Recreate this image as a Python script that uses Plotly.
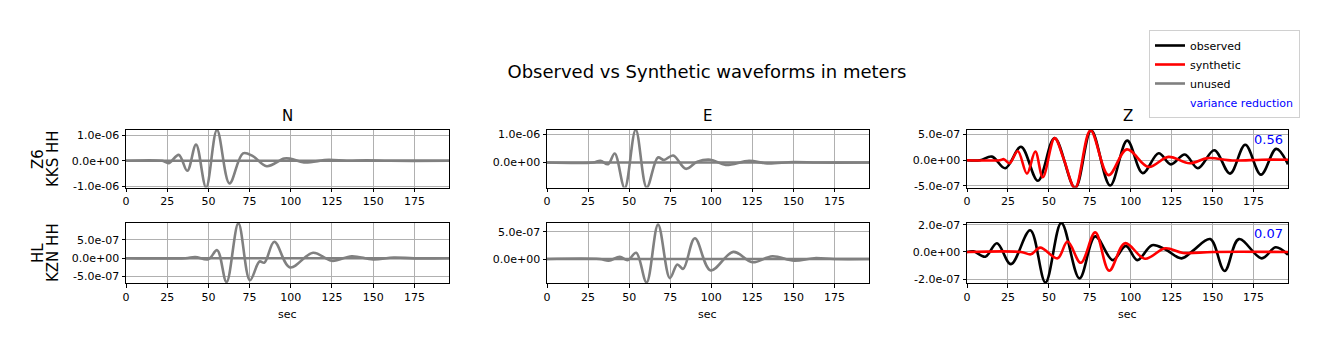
import plotly.graph_objects as go

# ---------------- data ----------------
x_ticks = [0, 25, 50, 75, 100, 125, 150, 175]
x_tick_labels = ["0", "25", "50", "75", "100", "125", "150", "175"]

# Row 1: Z6 KKS HH
t_N1 = [0, 22, 26, 32, 37.2, 42.5, 48.6, 55.2, 62.8, 71, 77, 85.4, 96, 100, 108, 123, 134, 146, 160, 196]
v_N1 = [0, 0, -0.09e-6, 0.23e-6, -0.39e-6, 0.63e-6, -1.04e-6, 1.2e-6, -0.88e-6, 0.29e-6, 0.18e-6,
        -0.21e-6, 0.09e-6, 0.08e-6, -0.06e-6, 0.04e-6, 0.0, 0.02e-6, 0, 0]
t_E1 = [0, 28, 32.5, 37.2, 41.2, 47.3, 54, 60.7, 67.5, 71.2, 76.8, 84.5, 91.5, 99.5, 108.8, 123, 134, 150, 165, 196]
v_E1 = [0, 0, 0.06e-6, -0.06e-6, 0.32e-6, -0.9e-6, 1.16e-6, -0.88e-6, 0.18e-6, 0.09e-6, 0.25e-6,
        -0.22e-6, 0.03e-6, 0.1e-6, -0.08e-6, 0.06e-6, -0.03e-6, 0.02e-6, 0, 0]
t_Z1_obs = [0, 8, 15.2, 23.4, 33, 43.3, 53.5, 66, 75.8, 87.4, 97.8, 107.3, 117, 124.5, 133, 141, 151,
            160.6, 169.9, 179.5, 188.8, 196]
v_Z1_obs = [0, 0, 0.7e-7, -1.55e-7, 2.6e-7, -4.0e-7, 4.3e-7, -5.4e-7, 5.8e-7, -4.9e-7, 3.8e-7, -2.5e-7,
            1.35e-7, -0.8e-7, 1.1e-7, -1.55e-7, 1.95e-7, -2.6e-7, 3.0e-7, -2.8e-7, 2.2e-7, -0.8e-7]
t_Z1_syn = [0, 20, 22.5, 26, 31, 36.6, 41.7, 46.3, 53.5, 59, 66, 75.4, 86.4, 97.6, 110.8, 123, 136, 147,
            162, 180, 196]
v_Z1_syn = [0, 0, 0.2e-7, -0.6e-7, 1.8e-7, -2.6e-7, 1.7e-7, -3.3e-7, 4.3e-7, 0.3e-7, -5.4e-7, 5.8e-7,
            -2.9e-7, 2.1e-7, -1.3e-7, 0.65e-7, -0.6e-7, 0.4e-7, -0.05e-7, 0.1e-7, 0.1e-7]

# Row 2: HL KZN HH
t_N2 = [0, 36, 42, 50, 55.3, 61, 68.2, 75.2, 81, 84, 90, 99.5, 113.5, 125, 137, 150, 162.5, 175, 196]
v_N2 = [0, 0, 0.3e-7, -0.3e-7, 2.2e-7, -6.5e-7, 9.5e-7, -6.0e-7, -0.9e-7, -1.2e-7, 4.5e-7, -2.5e-7,
        1.5e-7, -0.7e-7, 0.55e-7, -0.35e-7, 0.2e-7, -0.05e-7, 0]
t_E2 = [0, 32, 37.6, 44.3, 49.2, 54.3, 60.6, 67.6, 74.8, 79.3, 82.9, 90, 99.6, 113.4, 125, 137.2, 150.4,
        162.6, 175, 196]
v_E2 = [0, 0, -0.3e-7, 0.4e-7, -0.2e-7, 1.15e-7, -4.3e-7, 6.3e-7, -3.5e-7, -1.0e-7, -1.8e-7, 3.8e-7,
        -2.1e-7, 1.3e-7, -0.6e-7, 0.5e-7, -0.3e-7, 0.15e-7, 0, 0]
t_Z2_obs = [0, 4, 11.2, 18.3, 26.8, 38.6, 47.9, 57.6, 68.7, 78.3, 89, 97, 104, 113, 121, 131, 138,
            148.5, 157.3, 166, 180, 188.5, 196]
v_Z2_obs = [0, 0.05e-7, -0.35e-7, 0.65e-7, -0.9e-7, 1.6e-7, -2.25e-7, 2.15e-7, -1.95e-7, 1.15e-7,
            -0.6e-7, 0.45e-7, -0.6e-7, 0.5e-7, 0.2e-7, -0.47e-7, 0.1e-7, 0.95e-7, -1.4e-7, 0.95e-7,
            -0.47e-7, 0.35e-7, -0.2e-7]
t_Z2_syn = [0, 33, 39, 44.7, 55.3, 61.4, 69.5, 78.3, 86.8, 96.5, 108.7, 121, 132, 150, 196]
v_Z2_syn = [0, 0, -0.17e-7, 0.32e-7, -0.47e-7, 0.77e-7, -0.8e-7, 1.45e-7, -1.38e-7, 0.65e-7, -0.5e-7,
            0.27e-7, -0.07e-7, 0, 0]

# flat synthetic traces of unused components
t_flat = [0, 196]
v_flat = [0, 0]

variance_reduction = ["0.56", "0.07"]
components = ["N", "E", "Z"]
stations = [["Z6", "KKS HH"], ["HL", "KZN HH"]]

y_ticks = {
    1: ([1e-6, 0, -1e-6], ["1.0e-06", "0.0e+00", "-1.0e-06"]),
    2: ([1e-6, 0], ["1.0e-06", "0.0e+00"]),
    3: ([5e-7, 0, -5e-7], ["5.0e-07", "0.0e+00", "-5.0e-07"]),
    4: ([5e-7, 0, -5e-7], ["5.0e-07", "0.0e+00", "-5.0e-07"]),
    5: ([5e-7, 0], ["5.0e-07", "0.0e+00"]),
    6: ([2e-7, 0, -2e-7], ["2.0e-07", "0.0e+00", "-2.0e-07"]),
}
y_ranges = {
    1: [-1.04e-6, 1.2e-6],
    2: [-0.88e-6, 1.15e-6],
    3: [-5.3e-7, 5.87e-7],
    4: [-6.75e-7, 9.6e-7],
    5: [-4.4e-7, 6.6e-7],
    6: [-2.29e-7, 2.14e-7],
}

# ---------------- layout geometry ----------------
W, H = 1329, 351
FONT = "DejaVu Sans"
col_px = [(126, 449), (547, 869), (967, 1288)]
row_px = [(130, 187.5), (223, 283)]

def px_x(p):
    return p / W

def px_y(p):
    return (H - p) / H

fig = go.Figure()

GRAY = "#808080"
LW = 2.6

def add(ax, t, v, color, name=None, show=False, rank=None):
    fig.add_trace(go.Scatter(
        x=t, y=v, mode="lines", line=dict(color=color, width=LW, shape="spline", smoothing=1.0),
        xaxis="x" + ("" if ax == 1 else str(ax)), yaxis="y" + ("" if ax == 1 else str(ax)),
        name=name, showlegend=show, legendrank=rank if rank else 1000, hoverinfo="skip"))

# row 1
add(1, t_flat, v_flat, GRAY)
add(1, t_N1, v_N1, GRAY, "unused", True, 3)
add(2, t_flat, v_flat, GRAY)
add(2, t_E1, v_E1, GRAY)
add(3, t_Z1_obs, v_Z1_obs, "black", "observed", True, 1)
add(3, t_Z1_syn, v_Z1_syn, "red", "synthetic", True, 2)
# row 2
add(4, t_flat, v_flat, GRAY)
add(4, t_N2, v_N2, GRAY)
add(5, t_flat, v_flat, GRAY)
add(5, t_E2, v_E2, GRAY)
add(6, t_Z2_obs, v_Z2_obs, "black")
add(6, t_Z2_syn, v_Z2_syn, "red")

# legend-only entry
fig.add_trace(go.Scatter(x=[None], y=[None], mode="lines", line=dict(color="rgba(0,0,0,0)", width=LW),
                         name="<span style='color:blue'>variance reduction</span>",
                         showlegend=True, legendrank=4))

layout = dict(
    width=W, height=H,
    margin=dict(l=0, r=0, t=0, b=0),
    paper_bgcolor="white", plot_bgcolor="white",
    font=dict(family=FONT, size=11, color="black"),
    title=dict(text="Observed vs Synthetic waveforms in meters", x=px_x(707), xanchor="center",
               y=px_y(72), yanchor="middle", yref="container", font=dict(size=18, family=FONT)),
    legend=dict(x=px_x(1300), xanchor="right", y=px_y(30), yanchor="top",
                bgcolor="white", bordercolor="#d0d0d0", borderwidth=1,
                font=dict(size=11, family=FONT), itemwidth=30, tracegroupgap=0),
    showlegend=True,
)

annotations = []
for r in range(2):
    for c in range(3):
        k = r * 3 + c + 1
        xa = "xaxis" + ("" if k == 1 else str(k))
        ya = "yaxis" + ("" if k == 1 else str(k))
        tv, tt = y_ticks[k]
        layout[xa] = dict(
            domain=[px_x(col_px[c][0]), px_x(col_px[c][1])], range=[0, 196],
            anchor="y" + ("" if k == 1 else str(k)),
            tickmode="array", tickvals=x_ticks, ticktext=x_tick_labels,
            ticks="outside", ticklen=3.5, tickwidth=1, tickcolor="black",
            showline=True, linecolor="black", linewidth=1, mirror=True,
            showgrid=True, gridcolor="#b0b0b0", gridwidth=0.8, zeroline=False,
            tickfont=dict(size=11, family=FONT), automargin=False)
        layout[ya] = dict(
            domain=[px_y(row_px[r][1]), px_y(row_px[r][0])], range=y_ranges[k],
            anchor="x" + ("" if k == 1 else str(k)),
            tickmode="array", tickvals=tv, ticktext=tt,
            ticks="outside", ticklen=3.5, tickwidth=1, tickcolor="black",
            showline=True, linecolor="black", linewidth=1, mirror=True,
            showgrid=True, gridcolor="#b0b0b0", gridwidth=0.8, zeroline=False,
            tickfont=dict(size=11, family=FONT), automargin=False)

# column titles and x labels
for c, name in enumerate(components):
    annotations.append(dict(text=name, x=px_x((col_px[c][0] + col_px[c][1]) / 2), y=px_y(116),
                            xref="paper", yref="paper", showarrow=False, xanchor="center",
                            yanchor="middle", font=dict(size=15, family=FONT)))
    annotations.append(dict(text="sec", x=px_x((col_px[c][0] + col_px[c][1]) / 2), y=px_y(314),
                            xref="paper", yref="paper", showarrow=False, xanchor="center",
                            yanchor="middle", font=dict(size=11, family=FONT)))

# station labels (rotated)
row_centers = [159, 253]
for r in range(2):
    for line, xp in zip(stations[r], [38, 53]):
        annotations.append(dict(text=line, x=px_x(xp), y=px_y(row_centers[r]), xref="paper",
                                yref="paper", showarrow=False, textangle=-90, xanchor="center",
                                yanchor="middle", font=dict(size=15, family=FONT)))

# variance reduction values
for r, yp in enumerate([139, 233]):
    annotations.append(dict(text=variance_reduction[r], x=px_x(1285), y=px_y(yp), xref="paper",
                            yref="paper", showarrow=False, xanchor="right", yanchor="middle",
                            font=dict(size=13, family=FONT, color="blue")))

layout["annotations"] = annotations
fig.update_layout(**layout)
fig.write_html("out.html")
